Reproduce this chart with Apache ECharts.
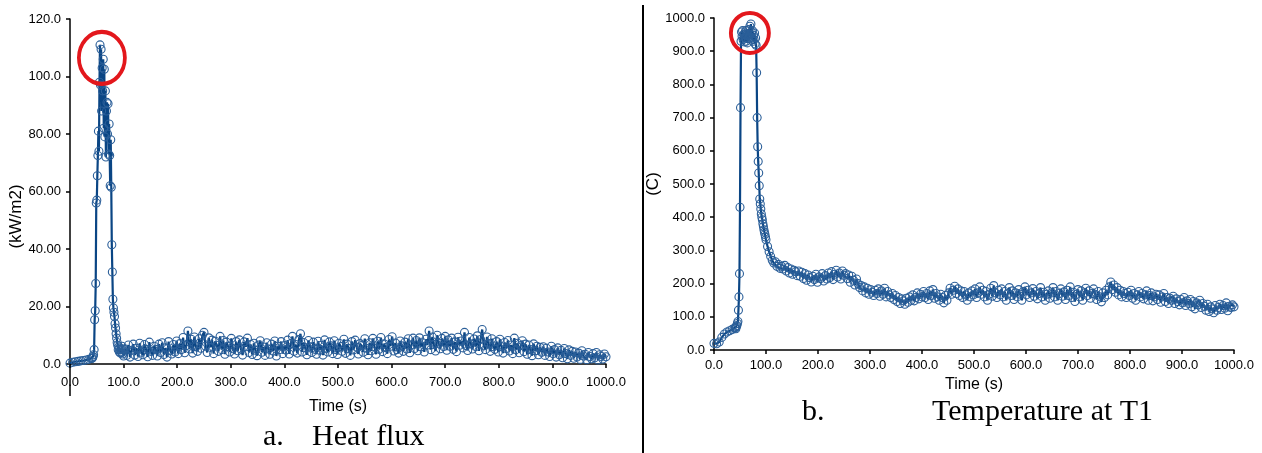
<!DOCTYPE html>
<html>
<head>
<meta charset="utf-8">
<script src="https://cdn.jsdelivr.net/npm/echarts@6/dist/echarts.min.js"></script>
<style>
  html, body { margin: 0; padding: 0; background: #fff; }
  #chart { width: 1262px; height: 453px; }
</style>
</head>
<body>
<div id="chart"></div>
<script>
// sample times (s): every 5 s before the burst, every 1 s through it, then every 3 s
var timeStart = [0, 5, 10, 15, 20, 25, 30, 35, 40];
var timeBurst = [
  41, 42, 43, 44, 45, 46, 47, 48, 49, 50,
  51, 52, 53, 54, 55, 56, 57, 58, 59, 60,
  61, 62, 63, 64, 65, 66, 67, 68, 69, 70,
  71, 72, 73, 74, 75, 76, 77, 78, 79, 80,
  81, 82, 83, 84, 85, 86, 87, 88, 89, 90,
  91, 92, 93, 94, 95, 96, 97, 98, 99, 100
];
var timeTail = [
  103, 106, 109, 112, 115, 118, 121, 124, 127, 130,
  133, 136, 139, 142, 145, 148, 151, 154, 157, 160,
  163, 166, 169, 172, 175, 178, 181, 184, 187, 190,
  193, 196, 199, 202, 205, 208, 211, 214, 217, 220,
  223, 226, 229, 232, 235, 238, 241, 244, 247, 250,
  253, 256, 259, 262, 265, 268, 271, 274, 277, 280,
  283, 286, 289, 292, 295, 298, 301, 304, 307, 310,
  313, 316, 319, 322, 325, 328, 331, 334, 337, 340,
  343, 346, 349, 352, 355, 358, 361, 364, 367, 370,
  373, 376, 379, 382, 385, 388, 391, 394, 397, 400,
  403, 406, 409, 412, 415, 418, 421, 424, 427, 430,
  433, 436, 439, 442, 445, 448, 451, 454, 457, 460,
  463, 466, 469, 472, 475, 478, 481, 484, 487, 490,
  493, 496, 499, 502, 505, 508, 511, 514, 517, 520,
  523, 526, 529, 532, 535, 538, 541, 544, 547, 550,
  553, 556, 559, 562, 565, 568, 571, 574, 577, 580,
  583, 586, 589, 592, 595, 598, 601, 604, 607, 610,
  613, 616, 619, 622, 625, 628, 631, 634, 637, 640,
  643, 646, 649, 652, 655, 658, 661, 664, 667, 670,
  673, 676, 679, 682, 685, 688, 691, 694, 697, 700,
  703, 706, 709, 712, 715, 718, 721, 724, 727, 730,
  733, 736, 739, 742, 745, 748, 751, 754, 757, 760,
  763, 766, 769, 772, 775, 778, 781, 784, 787, 790,
  793, 796, 799, 802, 805, 808, 811, 814, 817, 820,
  823, 826, 829, 832, 835, 838, 841, 844, 847, 850,
  853, 856, 859, 862, 865, 868, 871, 874, 877, 880,
  883, 886, 889, 892, 895, 898, 901, 904, 907, 910,
  913, 916, 919, 922, 925, 928, 931, 934, 937, 940,
  943, 946, 949, 952, 955, 958, 961, 964, 967, 970,
  973, 976, 979, 982, 985, 988, 991, 994, 997, 1000
];

// a. heat flux (kW/m2)
var heatStart = [0.3, 0.6, 0.8, 0.9, 1.1, 1.2, 1.4, 1.6, 1.9];
var heatBurst = [
  2.0, 2.2, 2.6, 3.2, 5.0, 15.4, 18.5, 28.0, 56.0, 57.0,
  65.5, 72.5, 81.0, 74.0, 98.0, 111.0, 97.0, 109.5, 88.0, 103.0,
  95.0, 106.0, 82.0, 102.5, 79.0, 95.0, 72.0, 88.0, 91.0, 80.0,
  90.5, 73.0, 83.5, 72.5, 62.0, 78.0, 61.5, 41.5, 32.0, 22.5,
  19.5, 18.0, 16.5, 14.0, 12.5, 10.5, 9.0, 7.5, 6.5, 5.0,
  6.0, 4.2, 5.5, 3.8, 5.0, 4.0, 6.2, 3.5, 5.2, 2.8
];
var heatTail = [
  5.2, 3.0, 6.6, 2.4, 4.8, 6.9, 3.1, 5.5, 2.6, 7.2,
  4.1, 3.2, 6.8, 5.0, 2.5, 7.6, 4.4, 3.0, 6.2, 5.1,
  2.8, 6.9, 4.0, 7.4, 3.3, 5.6, 2.4, 7.8, 4.6, 3.5,
  6.8, 4.2, 8.0, 3.6, 7.1, 5.0, 9.2, 3.9, 6.4, 11.5,
  5.2, 8.6, 3.8, 9.4, 6.0, 4.4, 8.8, 5.5, 10.0, 11.0,
  6.2, 4.0, 9.1, 5.8, 8.3, 3.6, 7.9, 6.5, 4.4, 9.6,
  5.0, 8.2, 3.4, 7.6, 6.1, 4.2, 8.9, 5.3, 3.5, 7.8,
  4.6, 8.4, 5.2, 3.1, 7.7, 6.0, 9.0, 4.0, 6.8, 3.3,
  7.2, 4.8, 2.9, 6.6, 8.1, 4.1, 5.9, 3.0, 7.4, 5.2,
  3.4, 6.9, 4.5, 8.0, 2.8, 6.2, 5.0, 7.8, 3.6, 6.4,
  4.9, 8.3, 3.5, 7.1, 9.6, 4.4, 6.8, 3.8, 8.5, 10.5,
  4.2, 7.5, 5.6, 3.2, 8.2, 6.0, 4.0, 7.6, 5.1, 3.4,
  7.9, 4.8, 6.5, 3.1, 8.4, 5.3, 4.2, 7.7, 6.3, 3.6,
  8.1, 5.0, 3.3, 7.2, 6.1, 4.4, 8.6, 3.7, 6.9, 5.4,
  3.0, 7.8, 4.9, 8.3, 5.8, 3.5, 7.1, 6.4, 4.1, 8.8,
  5.5, 3.2, 7.4, 4.6, 8.9, 6.0, 3.4, 7.9, 5.1, 9.2,
  4.3, 7.0, 5.7, 3.6, 8.5, 6.2, 9.5, 4.5, 7.3, 5.0,
  3.8, 8.0, 6.3, 4.4, 7.6, 5.2, 8.8, 3.9, 6.7, 9.0,
  5.4, 8.2, 4.6, 9.1, 6.0, 7.4, 4.2, 8.6, 6.6, 11.5,
  5.0, 9.4, 6.8, 4.5, 10.0, 7.2, 5.3, 8.9, 6.1, 9.6,
  4.8, 8.4, 6.2, 9.0, 5.1, 7.7, 4.3, 9.3, 6.5, 8.0,
  5.6, 11.0, 6.4, 4.7, 9.2, 7.0, 5.2, 8.7, 6.1, 9.8,
  4.6, 8.5, 12.0, 6.3, 5.0, 9.4, 7.1, 4.4, 8.8, 6.0,
  5.1, 7.8, 4.2, 8.6, 6.0, 3.8, 7.5, 5.4, 8.2, 4.5,
  6.6, 3.6, 9.0, 5.0, 7.2, 3.9, 6.4, 8.1, 4.3, 6.9,
  3.4, 6.6, 5.0, 2.9, 7.0, 4.6, 6.2, 3.2, 5.8, 4.1,
  6.0, 3.0, 5.5, 4.2, 2.6, 6.2, 3.6, 5.0, 2.4, 5.6,
  3.2, 4.8, 2.2, 5.4, 3.6, 1.8, 4.9, 3.0, 4.4, 2.0,
  4.2, 2.4, 3.8, 1.6, 4.6, 2.8, 3.4, 1.5, 4.0, 2.6,
  1.8, 3.6, 2.2, 4.0, 1.4, 3.2, 2.6, 1.7, 3.5, 2.5
];

// b. temperature at T1 (C)
var tempStart = [20, 19, 24, 38, 48, 54, 58, 62, 66];
var tempBurst = [
  68, 64, 71, 74, 80, 86, 120, 160, 230, 430,
  730, 930, 958, 945, 962, 935, 950, 928, 955, 940,
  962, 930, 948, 925, 952, 938, 965, 945, 975, 950,
  982, 958, 940, 962, 930, 948, 935, 955, 922, 940,
  918, 835, 700, 612, 568, 533, 495, 455, 440, 425,
  410, 400, 392, 380, 372, 362, 355, 348, 340, 332
];
var tempTail = [
  312, 296, 282, 270, 262, 266, 252, 258, 246, 252,
  244, 255, 238, 248, 232, 244, 228, 240, 236, 224,
  238, 222, 234, 215, 230, 210, 226, 218, 205, 222,
  212, 228, 204, 220, 215, 230, 208, 224, 214, 232,
  218, 236, 212, 228, 240, 220, 232, 214, 238, 225,
  230, 215, 226, 204, 222, 210, 196, 214, 200, 188,
  194, 178, 190, 172, 186, 168, 182, 174, 164, 180,
  170, 184, 162, 178, 168, 186, 160, 176, 166, 158,
  170, 152, 164, 146, 158, 140, 154, 148, 138, 156,
  144, 160, 150, 166, 148, 158, 172, 154, 168, 160,
  176, 158, 170, 152, 178, 164, 182, 156, 170, 160,
  150, 168, 158, 142, 164, 150, 172, 186, 168, 180,
  192, 170, 184, 164, 178, 158, 176, 166, 150, 172,
  160, 178, 166, 184, 158, 172, 190, 168, 180, 160,
  176, 150, 168, 186, 162, 194, 172, 158, 180, 166,
  184, 160, 176, 150, 170, 188, 164, 178, 152, 172,
  160, 182, 168, 150, 176, 190, 166, 180, 158, 172,
  185, 162, 176, 154, 170, 188, 160, 174, 150, 168,
  178, 156, 172, 188, 160, 176, 150, 170, 184, 162,
  175, 152, 180, 164, 190, 158, 174, 146, 168, 182,
  160, 178, 150, 172, 186, 164, 178, 156, 170, 184,
  168, 152, 176, 160, 145, 172, 158, 180, 166, 190,
  205, 182, 196, 174, 188, 166, 180, 160, 176, 170,
  158, 174, 164, 180, 156, 170, 150, 166, 176, 160,
  170, 154, 166, 178, 150, 164, 172, 148, 160, 168,
  152, 166, 144, 160, 170, 146, 158, 140, 156, 150,
  162, 140, 154, 146, 136, 152, 142, 158, 134, 148,
  140, 152, 130, 146, 124, 142, 136, 150, 128, 140,
  132, 120, 138, 116, 130, 124, 112, 134, 120, 128,
  138, 122, 134, 126, 142, 118, 132, 128, 136, 130
];

// tick labels as printed on the original
var timeLabels = ['0.0', '100.0', '200.0', '300.0', '400.0', '500.0', '600.0', '700.0', '800.0', '900.0', '1000.0'];
var heatLabels = ['0.0', '20.00', '40.00', '60.00', '80.00', '100.0', '120.0'];
var tempLabels = ['0.0', '100.0', '200.0', '300.0', '400.0', '500.0', '600.0', '700.0', '800.0', '900.0', '1000.0'];

// red rings drawn round the peaks: [time, value]
var heatRing = [59.5, 106.5];
var tempRing = [69, 955];

var sampleTime = timeStart.concat(timeBurst, timeTail);
var heatFlux = heatStart.concat(heatBurst, heatTail);
var temperature = tempStart.concat(tempBurst, tempTail);

function pairs(vals) {
  return sampleTime.map(function (t, i) { return [t, vals[i]]; });
}

var sans = 'Liberation Sans, Arial, sans-serif';
var serif = 'Liberation Serif, Times New Roman, serif';
var axisColor = '#000';

function xAxes(grid, gap, labelMargin) {
  return [{
    type: 'value', gridIndex: grid, min: 0, max: 1000, interval: 100,
    name: 'Time (s)', nameLocation: 'middle', nameGap: gap,
    nameTextStyle: { fontFamily: sans, fontSize: 16, color: '#000' },
    axisLine: { onZero: false, lineStyle: { color: axisColor, width: 1.5 } },
    axisTick: { length: 4, lineStyle: { color: axisColor, width: 1.5 } },
    axisLabel: {
      margin: labelMargin, fontFamily: sans, fontSize: 13, color: '#000',
      formatter: function (v) { return timeLabels[Math.round(v / 100)]; }
    },
    splitLine: { show: false }
  }, {
    // second copy only for the tick halves inside the plot
    type: 'value', gridIndex: grid, min: 0, max: 1000, interval: 100,
    axisLine: { show: false },
    axisTick: { inside: true, length: 4, lineStyle: { color: axisColor, width: 1.5 } },
    axisLabel: { show: false },
    splitLine: { show: false }
  }];
}

function yAxes(grid, max, step, labels, name, gap, pad) {
  return [{
    type: 'value', gridIndex: grid, min: 0, max: max, interval: step,
    name: name, nameLocation: 'middle', nameGap: gap,
    nameTextStyle: { fontFamily: sans, fontSize: 17, color: '#000', padding: pad },
    axisLine: { onZero: false, lineStyle: { color: axisColor, width: 1.5 } },
    axisTick: { length: 4, lineStyle: { color: axisColor, width: 1.5 } },
    axisLabel: {
      margin: 9, fontFamily: sans, fontSize: 13, color: '#000',
      formatter: function (v) { return labels[Math.round(v / step)]; }
    },
    splitLine: { show: false }
  }, {
    type: 'value', gridIndex: grid, min: 0, max: max, interval: step,
    axisLine: { show: false },
    axisTick: { inside: true, length: 4, lineStyle: { color: axisColor, width: 1.5 } },
    axisLabel: { show: false },
    splitLine: { show: false }
  }];
}

function lineSeries(name, vals, xi, yi, ring, ringSize) {
  return {
    name: name,
    type: 'line',
    xAxisIndex: xi,
    yAxisIndex: yi,
    data: pairs(vals),
    symbol: 'circle',
    symbolSize: 8,
    itemStyle: { color: 'rgba(0,0,0,0)', borderColor: '#2b5f99', borderWidth: 1.1 },
    lineStyle: { color: '#0a4584', width: 2.2 },
    emphasis: { disabled: true },
    markPoint: {
      symbol: 'circle',
      symbolSize: ringSize,
      label: { show: false },
      itemStyle: { color: 'rgba(0,0,0,0)', borderColor: '#e3171c', borderWidth: 4 },
      data: [{ coord: ring }]
    }
  };
}

var myChart = echarts.init(document.getElementById('chart'));
var option = {
  animation: false,
  backgroundColor: '#fff',
  grid: [
    { left: 70, top: 19, width: 536, height: 345 },
    { left: 714, top: 18, width: 520, height: 332 }
  ],
  xAxis: xAxes(0, 35, 12).concat(xAxes(1, 27, 9)),
  yAxis: yAxes(0, 120, 20, heatLabels, '(kW/m2)', 44, [0, 50, 0, 0])
    .concat(yAxes(1, 1000, 100, tempLabels, '(C)', 48, 0)),
  series: [
    lineSeries('Heat flux', heatFlux, 0, 0, heatRing, [46, 52]),
    lineSeries('Temperature at T1', temperature, 2, 2, tempRing, [38, 40])
  ],
  graphic: [
    { type: 'line', id: 'divider', shape: { x1: 643, y1: 5, x2: 643, y2: 453 },
      style: { stroke: '#000', lineWidth: 2 } },
    { type: 'text', left: 263, top: 422,
      style: { text: 'a.', font: '30px ' + serif, fill: '#000' } },
    { type: 'text', left: 312, top: 422,
      style: { text: 'Heat flux', font: '30px ' + serif, fill: '#000' } },
    { type: 'text', left: 802, top: 397,
      style: { text: 'b.', font: '30px ' + serif, fill: '#000' } },
    { type: 'text', left: 932, top: 397,
      style: { text: 'Temperature at T1', font: '30px ' + serif, fill: '#000' } }
  ]
};
option && myChart.setOption(option);

// the left value axis runs on past the time axis, through the "0.0" label
var base = myChart.convertToPixel({ gridIndex: 0 }, [0, 0]);
myChart.setOption({
  graphic: [{
    type: 'line', id: 'yStub',
    shape: { x1: base[0], y1: base[1], x2: base[0], y2: base[1] + 32 },
    style: { stroke: axisColor, lineWidth: 1.5 }, z: 10
  }]
});
window.addEventListener('resize', myChart.resize);
</script>
</body>
</html>
